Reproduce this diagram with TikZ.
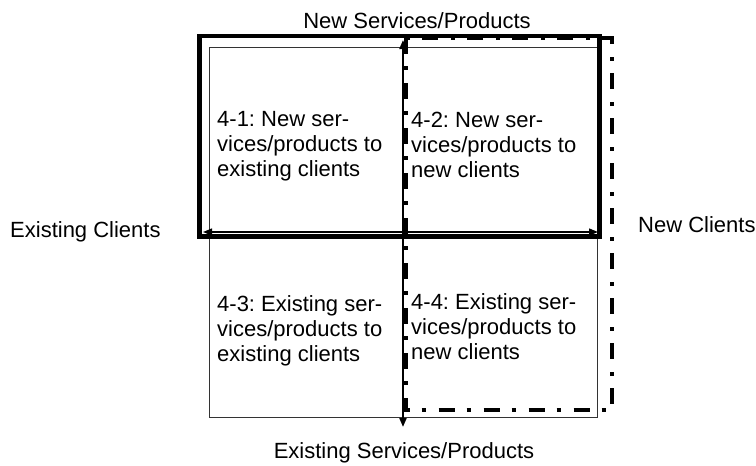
\documentclass[tikz,border=0pt]{standalone}
\usepackage{fontspec}
\setmainfont{Liberation Sans}
\usetikzlibrary{arrows.meta}
\frenchspacing
\begin{document}
\begin{tikzpicture}[x=1pt,y=-1pt,
  lbl/.style={inner sep=0pt,font=\fontsize{22}{25}\selectfont},
  quad/.style={inner sep=0pt,anchor=north west,align=left,font=\fontsize{22}{25}\selectfont\frenchspacing},
  thinbox/.style={draw=black!80,line width=1pt},
  thickbox/.style={draw=black,line width=4.3pt},
  dashbox/.style={draw=black,line width=4pt,dash pattern=on 16pt off 12pt on 4pt off 13pt},
  axis/.style={draw=black,{Triangle[length=9pt,width=7pt]}-{Triangle[length=9pt,width=7pt]}}
]
\useasboundingbox (0,0) rectangle (756,466);
% thin square
\draw[thinbox] (209,47) rectangle (597,417);
% thick box (new services)
\draw[thickbox] (199.5,36) rectangle (599.5,236.5);
% dash-dot box (new clients)
\draw[dashbox] (405.5,38) rectangle (612,410);
% axes
\coordinate (hl) at (203,232);
\coordinate (hr) at (598,232);
\coordinate (vt) at (403,40);
\coordinate (vb) at (403,427);
\draw[axis,line width=1.3pt] (hl) -- (hr);
\draw[axis,line width=2pt] (vt) -- (vb);
% quadrant texts
\node[quad] (q1) at (217,111) {4-1: New ser-\\vices/products to\\existing clients};
\node[quad] (q2) at (411,111.5) {4-2: New ser-\\vices/products to\\new clients};
\node[quad] (q3) at (217,295) {4-3: Existing ser-\\vices/products to\\existing clients};
\node[quad] (q4) at (411,293.5) {4-4: Existing ser-\\vices/products to\\new clients};
% outside labels
\node[lbl,anchor=base] (top) at (417,28) {New Services/Products};
\node[lbl,anchor=base] (bot) at (404,458) {Existing Services/Products};
\node[lbl,anchor=base west] (left) at (10,237) {Existing Clients};
\node[lbl,anchor=base west] (right) at (638,232) {New Clients};
\end{tikzpicture}
\end{document}
